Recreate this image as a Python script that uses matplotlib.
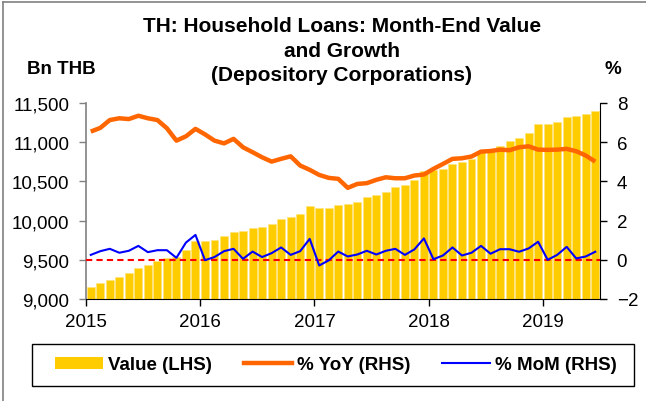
import matplotlib
matplotlib.use("Agg")
import matplotlib.pyplot as plt
import matplotlib.ticker as mticker
from matplotlib.lines import Line2D
from matplotlib.patches import Patch, Rectangle
import numpy as np

plt.rcParams['font.family'] = ['Liberation Sans', 'DejaVu Sans']

# month-end data, Jan 2015 .. Jun 2019
years = ["2015", "2016", "2017", "2018", "2019"]
value_bn = [9157, 9200, 9247, 9281, 9332, 9395, 9434, 9480, 9523, 9535, 9621, 9744,
            9744, 9757, 9799, 9855, 9867, 9906, 9918, 9952, 10016, 10042, 10080, 10190,
            10161, 10161, 10199, 10216, 10241, 10297, 10322, 10369, 10429, 10454, 10518, 10633,
            10645, 10658, 10722, 10747, 10786, 10884, 10900, 10947, 11011, 11058, 11122, 11232,
            11232, 11253, 11321, 11334, 11355, 11402]
yoy = [6.54, 6.73, 7.13, 7.22, 7.18, 7.35, 7.22, 7.13, 6.71, 6.08, 6.30, 6.68,
       6.40, 6.08, 5.94, 6.17, 5.74, 5.49, 5.23, 5.01, 5.15, 5.28, 4.81, 4.59,
       4.33, 4.18, 4.13, 3.67, 3.87, 3.91, 4.08, 4.21, 4.16, 4.16, 4.30, 4.35,
       4.64, 4.89, 5.15, 5.18, 5.27, 5.52, 5.55, 5.62, 5.59, 5.74, 5.79, 5.62,
       5.61, 5.62, 5.66, 5.54, 5.32, 5.01]
mom = [0.25, 0.44, 0.56, 0.36, 0.46, 0.71, 0.39, 0.49, 0.49, 0.10, 0.88, 1.27,
       -0.02, 0.14, 0.44, 0.56, 0.05, 0.42, 0.14, 0.34, 0.63, 0.25, 0.44, 1.07,
       -0.29, -0.03, 0.42, 0.17, 0.27, 0.46, 0.27, 0.46, 0.56, 0.25, 0.53, 1.09,
       0.03, 0.22, 0.63, 0.22, 0.36, 0.71, 0.31, 0.54, 0.54, 0.41, 0.58, 0.92,
       0.00, 0.25, 0.66, 0.07, 0.17, 0.41]

x = np.arange(len(value_bn)) + 0.5

fig = plt.figure(figsize=(6.46, 4.02), dpi=100)
ax = fig.add_axes([86/646, 102/402, 514/646, 196/402])
ax2 = ax.twinx()

ax.bar(x, value_bn, width=0.84, color='#FFCC00', edgecolor='#FFE27A', linewidth=0.4, zorder=2)
ax.set_ylim(9000, 11500)
ax.set_yticks(np.arange(9000, 11501, 500))
ax.yaxis.set_major_formatter(mticker.FuncFormatter(lambda v, p: f"{int(v):,}"))
ax.set_xlim(0, len(value_bn))
ax.set_xticks(np.arange(0, 49, 12))
ax.set_xticklabels(years)

ax2.axhline(0, color='#FF0000', lw=1.5, ls=(0, (3, 2)), zorder=3)
ax2.plot(x, yoy, color='#FF6600', lw=3.2, solid_capstyle='butt', zorder=4)
ax2.plot(x, mom, color='#0000FF', lw=1.5, zorder=5)
ax2.set_ylim(-2, 8)
ax2.set_yticks(np.arange(-2, 9, 2))

for a in (ax, ax2):
    a.spines['top'].set_visible(False)
    a.tick_params(direction='out', length=5, width=1, labelsize=13.5, pad=7)
ax.spines['left'].set_color('#808080')
ax.spines['left'].set_linewidth(1.2)
ax.spines['right'].set_visible(False)
ax2.spines['left'].set_visible(False)
ax2.spines['bottom'].set_visible(False)
ax2.spines['right'].set_color('black')
ax.tick_params(axis='y', color='#808080')
ax.tick_params(axis='x', pad=5)

fig.text(0.529, 1 - 17/402, "TH: Household Loans: Month-End Value\nand Growth\n(Depository Corporations)",
         ha='center', va='top', fontsize=15, fontweight='bold', linespacing=1.38)
fig.text(61/646, 1 - 70/402, "Bn THB", ha='center', va='center', fontsize=13.5, fontweight='bold')
fig.text(613/646, 1 - 70/402, "%", ha='center', va='center', fontsize=13.5, fontweight='bold')

# legend frame drawn separately so its size matches the reference box
fig.add_artist(Rectangle((32/646, 15/402), 602/646, 42/402, transform=fig.transFigure,
                         facecolor='white', edgecolor='black', lw=1.0, zorder=1))
handles = [Patch(facecolor='#FFCC00', edgecolor='none'),
           Line2D([], [], color='#FF6600', lw=3.2),
           Line2D([], [], color='#0000FF', lw=1.5)]
labels = ["Value (LHS)", "% YoY (RHS)", "% MoM (RHS)"]
leg = fig.legend(handles, labels, loc='center', ncol=3,
                 bbox_to_anchor=(336/646, 1 - 366/402),
                 prop={'weight': 'bold', 'size': 13.5}, frameon=False,
                 handlelength=2.55, handletextpad=0.27, columnspacing=1.7,
                 handleheight=0.6, borderpad=0)
leg.set_zorder(2)

# outer frame (only left and top edges are visible)
fig.add_artist(Line2D([3/646, 3/646], [0, 1 - 3/402], transform=fig.transFigure, color='#808080', lw=1.2))
fig.add_artist(Line2D([3/646, 1], [1 - 3/402, 1 - 3/402], transform=fig.transFigure, color='#808080', lw=1.2))

fig.savefig("out.png", dpi=100)
